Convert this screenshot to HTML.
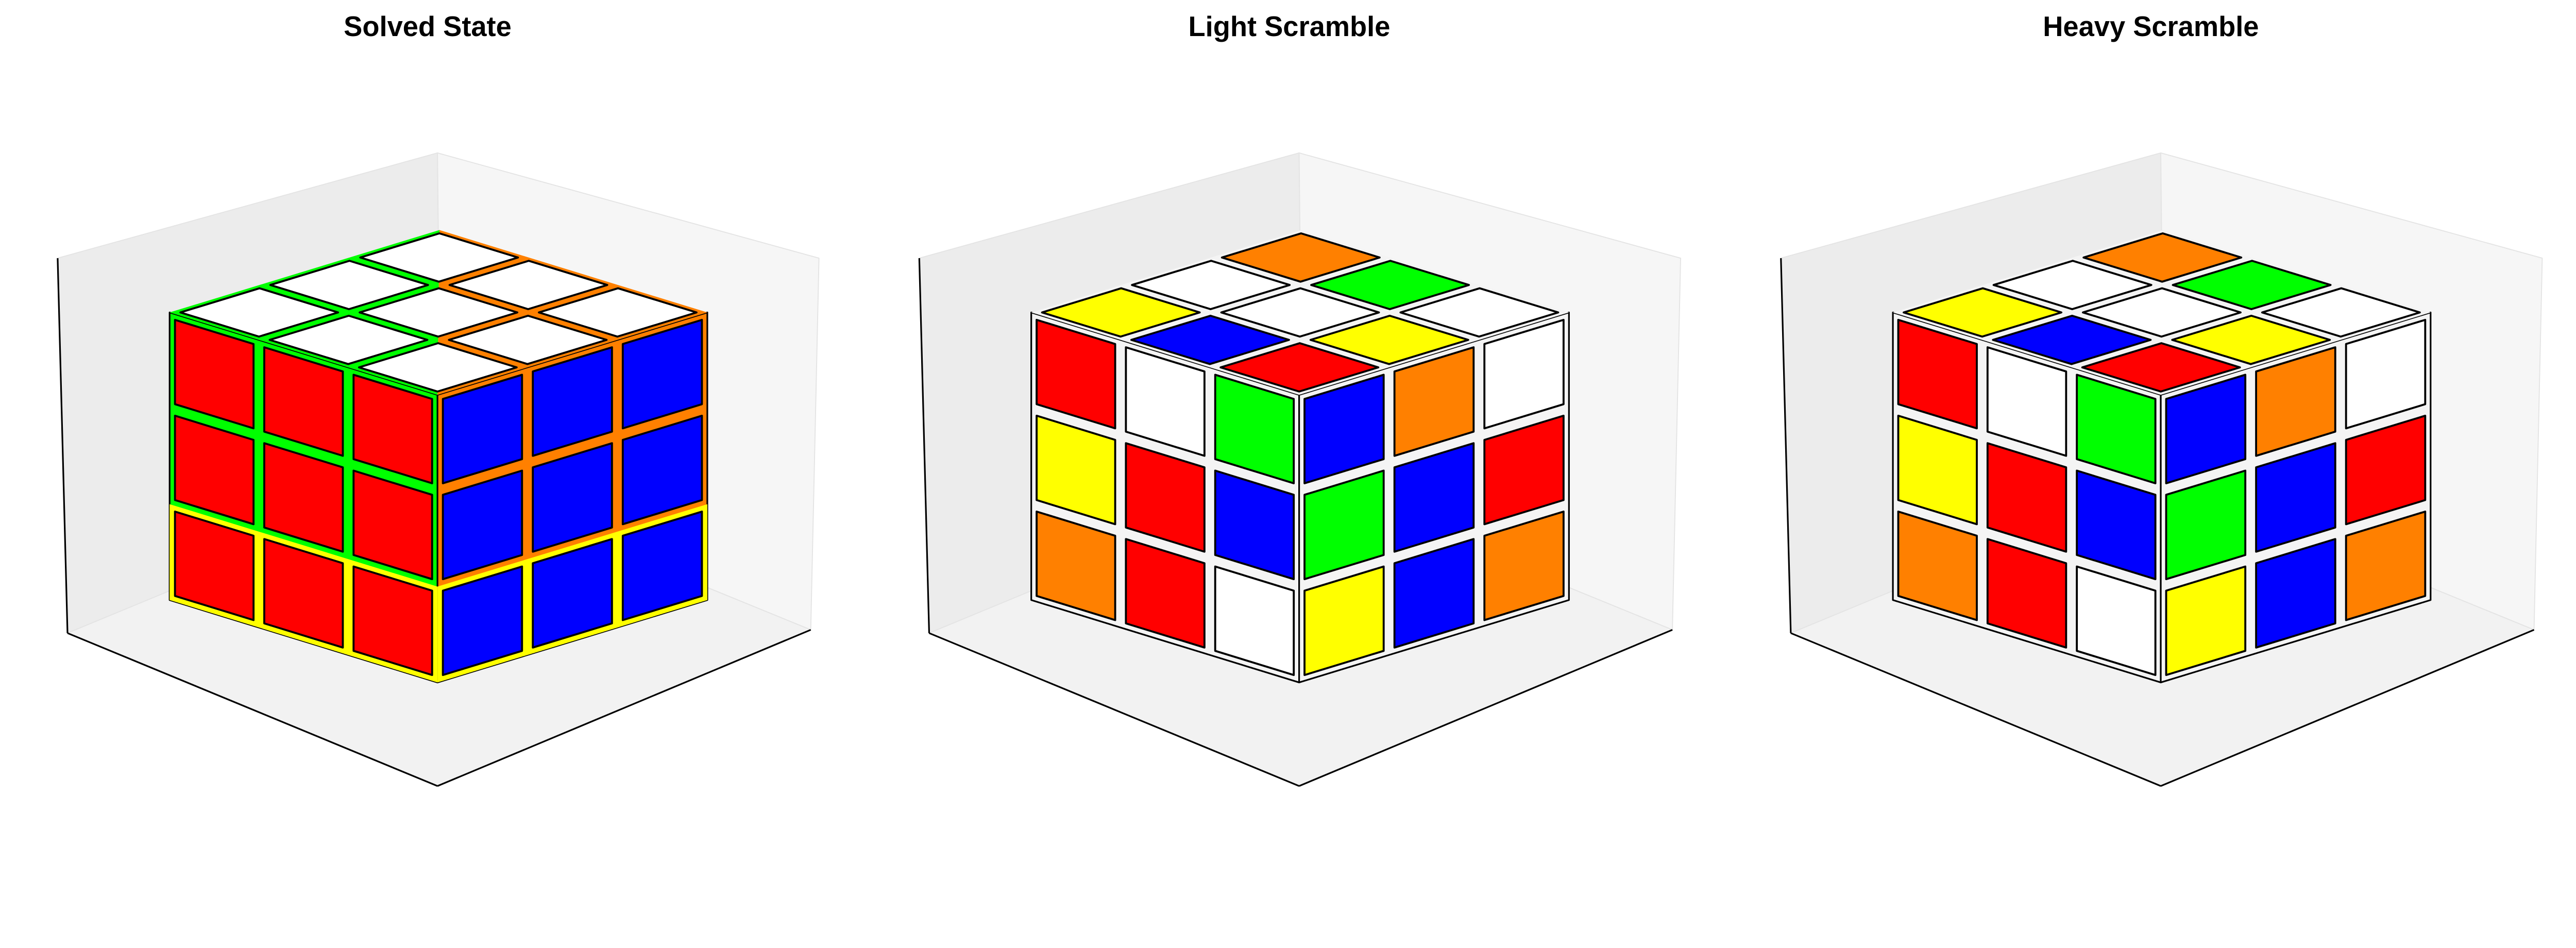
<!DOCTYPE html>
<html><head><meta charset="utf-8"><style>
html,body{margin:0;padding:0;background:#fff;}
svg{display:block;}
</style></head><body>
<svg id="fig" width="5340" height="1840" viewBox="0 0 1673 576.5" xmlns="http://www.w3.org/2000/svg">
<g id="root"></g>
</svg>
<script>
const titles = ["Solved State", "Light Scramble", "Heavy Scramble"];
const W="#ffffff",R="#ff0000",B="#0000ff",G="#00ff00",Y="#ffff00",O="#ff8000";
// top face colors indexed [x][y] (x along left edge from front, y along right edge from front)
const topSolved = [[W,W,W],[W,W,W],[W,W,W]];
const leftSolved = [[R,R,R],[R,R,R],[R,R,R]];   // rows top->bottom, cols back->front
const rightSolved = [[B,B,B],[B,B,B],[B,B,B]];  // rows top->bottom, cols front->back
const topScr = [[R,Y,W],[B,W,G],[Y,W,O]];
const leftScr = [[R,W,G],[Y,R,B],[O,R,W]];
const rightScr = [[B,O,W],[G,B,R],[Y,B,O]];
const panelTops = [topSolved, topScr, topScr];
const panelLefts = [leftSolved, leftScr, leftScr];
const panelRights = [rightSolved, rightScr, rightScr];

const NS="http://www.w3.org/2000/svg";
const root=document.getElementById('root');
function poly(parent, pts, fill, stroke, sw){
  const p=document.createElementNS(NS,'polygon');
  p.setAttribute('points', pts.map(q=>q[0].toFixed(2)+','+q[1].toFixed(2)).join(' '));
  p.setAttribute('fill', fill);
  if(stroke){p.setAttribute('stroke',stroke);p.setAttribute('stroke-width',sw);p.setAttribute('stroke-linejoin','round');}
  else p.setAttribute('stroke','none');
  parent.appendChild(p); return p;
}
function line(parent,a,b){
  const l=document.createElementNS(NS,'line');
  l.setAttribute('x1',a[0]);l.setAttribute('y1',a[1]);l.setAttribute('x2',b[0]);l.setAttribute('y2',b[1]);
  l.setAttribute('stroke','#000');l.setAttribute('stroke-width','1');
  parent.appendChild(l); return l;
}
const g0=0.06;
for(let p=0;p<3;p++){
  const ox=p*524;
  const g=document.createElementNS(NS,'g');
  
  
  root.appendChild(g);
  const LT=[35+ox,157],LB=[41+ox,385],BT=[266+ox,93],BB=[268+ox,291],RT=[498+ox,157],RB=[493+ox,383],FB=[266+ox,478];
  const lw=poly(g,[LT,BT,BB,LB],'#ececec','#e4e4e4',0.6);
  
  
  const rw=poly(g,[BT,RT,RB,BB],'#f6f6f6','#e4e4e4',0.6);
  
  
  const fl=poly(g,[LB,BB,RB,FB],'#f2f2f2','#e4e4e4',0.6);
  
  
  const l1=line(g,LT,LB);
  
  
  const l2=line(g,LB,FB);
  
  
  const l3=line(g,FB,RB);
  
  
  const P=(x,y,z)=>[266+ox-54.3*x+54.7*y, 415-16.7*x-16.7*y-58.3*z];
  const cube=document.createElementNS(NS,'g');
  
  
  g.appendChild(cube);
  const solved=(p===0);
  const gapL=solved?G:'#f4f4f4', gapR=solved?O:'#f4f4f4';
  poly(cube,[P(0,0,0),P(3,0,0),P(3,0,3),P(0,0,3)],gapL,'#000',1);
  poly(cube,[P(0,0,0),P(0,3,0),P(0,3,3),P(0,0,3)],gapR,'#000',1);
  if(solved){
    poly(cube,[P(0,0,0),P(3,0,0),P(3,0,1),P(0,0,1)],Y,null);
    poly(cube,[P(0,0,0),P(0,3,0),P(0,3,1),P(0,0,1)],Y,null);
    poly(cube,[P(0,0,3),P(3,0,3),P(3,3,3)],G,null);
    poly(cube,[P(0,0,3),P(0,3,3),P(3,3,3)],O,null);
  } else {
    poly(cube,[P(0,0,3),P(3,0,3),P(3,3,3),P(0,3,3)],'#f4f4f4',null);
  }
  const T=panelTops[p],L=panelLefts[p],Rt=panelRights[p];
  for(let i=0;i<3;i++)for(let j=0;j<3;j++){
    const s=poly(cube,[P(i+g0,j+g0,3),P(i+1-g0,j+g0,3),P(i+1-g0,j+1-g0,3),P(i+g0,j+1-g0,3)],T[i][j],'#000',1.2);
    
    
  }
  for(let r=0;r<3;r++)for(let c=0;c<3;c++){
    const x0=2-c, z0=2-r;
    const s=poly(cube,[P(x0+g0,0,z0+g0),P(x0+1-g0,0,z0+g0),P(x0+1-g0,0,z0+1-g0),P(x0+g0,0,z0+1-g0)],L[r][c],'#000',1.2);
    
    
    const y0=c;
    const s2=poly(cube,[P(0,y0+g0,z0+g0),P(0,y0+1-g0,z0+g0),P(0,y0+1-g0,z0+1-g0),P(0,y0+g0,z0+1-g0)],Rt[r][c],'#000',1.2);
    
    
  }
  const t=document.createElementNS(NS,'text');
  t.setAttribute('x',260+ox);t.setAttribute('y',22);
  t.setAttribute('text-anchor','middle');
  t.setAttribute('font-family','"Liberation Sans","DejaVu Sans",sans-serif');
  t.setAttribute('font-weight','bold');t.setAttribute('font-size','17');
  t.textContent=titles[p];
  
  
  g.appendChild(t);
}
</script>
</body></html>
